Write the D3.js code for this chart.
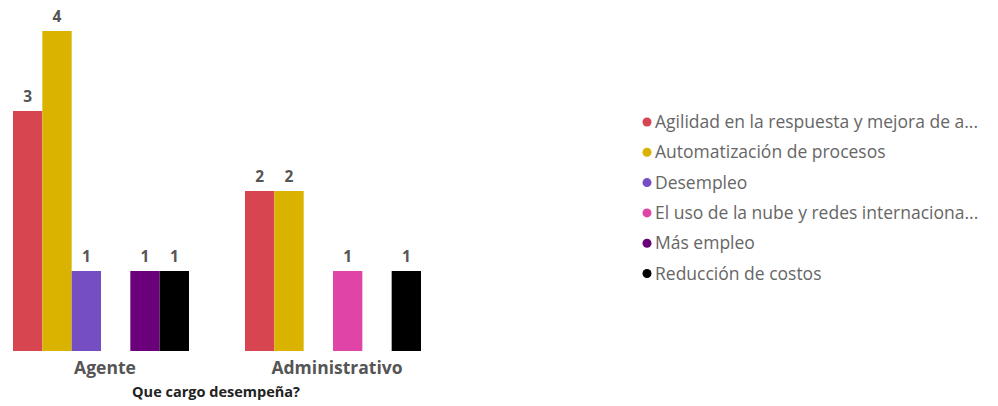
<!DOCTYPE html>
<html>
<head>
<meta charset="utf-8">
<script src="https://cdn.jsdelivr.net/npm/d3@7"></script>
<style>
  body { margin: 0; background: #fff; }
  svg { display: block; }
</style>
</head>
<body>
<svg id="chart" width="998" height="406"></svg>
<script>
// Categories (x axis) and answer series
const categories = ["Agente", "Administrativo"];
const seriesNames = [
  "Agilidad en la respuesta y mejora de a...",
  "Automatización de procesos",
  "Desempleo",
  "El uso de la nube y redes internaciona...",
  "Más empleo",
  "Reducción de costos"
];
const seriesColors = ["#D64550", "#D9B300", "#744EC2", "#E044A7", "#6B007B", "#000000"];
// Counts per series, in category order (null = no answers)
const agilidad = [3, 2];
const automatizacion = [4, 2];
const desempleo = [1, null];
const nube = [null, 1];
const masEmpleo = [1, null];
const reduccion = [1, 1];
const seriesValues = [agilidad, automatizacion, desempleo, nube, masEmpleo, reduccion];

const axisTitle = "Que cargo desempeña?";

const svg = d3.select("#chart");
const font = "'Open Sans', 'Noto Sans', sans-serif";

const baseline = 351;
const y = d3.scaleLinear().domain([0, 4]).range([baseline, 31]);

const x0 = d3.scaleBand().domain(categories).range([13, 421]).paddingInner(0.2414).paddingOuter(0);
const x1 = d3.scaleBand().domain(d3.range(seriesNames.length)).range([0, x0.bandwidth()]).padding(0);

const rows = [];
categories.forEach((c, ci) => {
  seriesValues.forEach((vals, si) => {
    if (vals[ci] != null) rows.push({ cat: c, s: si, v: vals[ci] });
  });
});

const g = svg.append("g");
g.selectAll("rect.bar").data(rows).join("rect")
  .attr("class", "bar")
  .attr("x", d => x0(d.cat) + x1(d.s))
  .attr("y", d => y(d.v))
  .attr("width", x1.bandwidth())
  .attr("height", d => baseline - y(d.v))
  .attr("fill", d => seriesColors[d.s]);

g.selectAll("text.val").data(rows).join("text")
  .attr("class", "val")
  .attr("x", d => x0(d.cat) + x1(d.s) + x1.bandwidth() / 2)
  .attr("y", d => y(d.v) - 9)
  .attr("text-anchor", "middle")
  .attr("font-family", font)
  .attr("font-weight", "bold")
  .attr("font-size", 15.5)
  .attr("fill", "#555")
  .text(d => d.v);

// Category axis
const xAxis = d3.axisBottom(x0).tickSize(0).tickPadding(0);
const ax = svg.append("g").attr("transform", `translate(4,${baseline})`).call(xAxis);
ax.select(".domain").remove();
ax.selectAll("text")
  .attr("dy", null)
  .attr("y", 23)
  .attr("font-family", font)
  .attr("font-weight", "bold")
  .attr("font-size", 17.5)
  .attr("fill", "#555");

svg.append("text")
  .attr("x", 216)
  .attr("y", 397)
  .attr("text-anchor", "middle")
  .attr("font-family", font)
  .attr("font-weight", "bold")
  .attr("font-size", 14.5)
  .attr("fill", "#222")
  .text(axisTitle);

// Legend
const legend = svg.append("g").attr("transform", "translate(647,122)");
const item = legend.selectAll("g").data(seriesNames).join("g")
  .attr("transform", (d, i) => `translate(0,${i * 30.3})`);
item.append("circle").attr("r", 4.5).attr("fill", (d, i) => seriesColors[i]);
item.append("text")
  .attr("x", 8)
  .attr("dy", "0.35em")
  .attr("font-family", font)
  .attr("font-size", 17.5)
  .attr("fill", "#666")
  .text(d => d);
</script>
</body>
</html>
